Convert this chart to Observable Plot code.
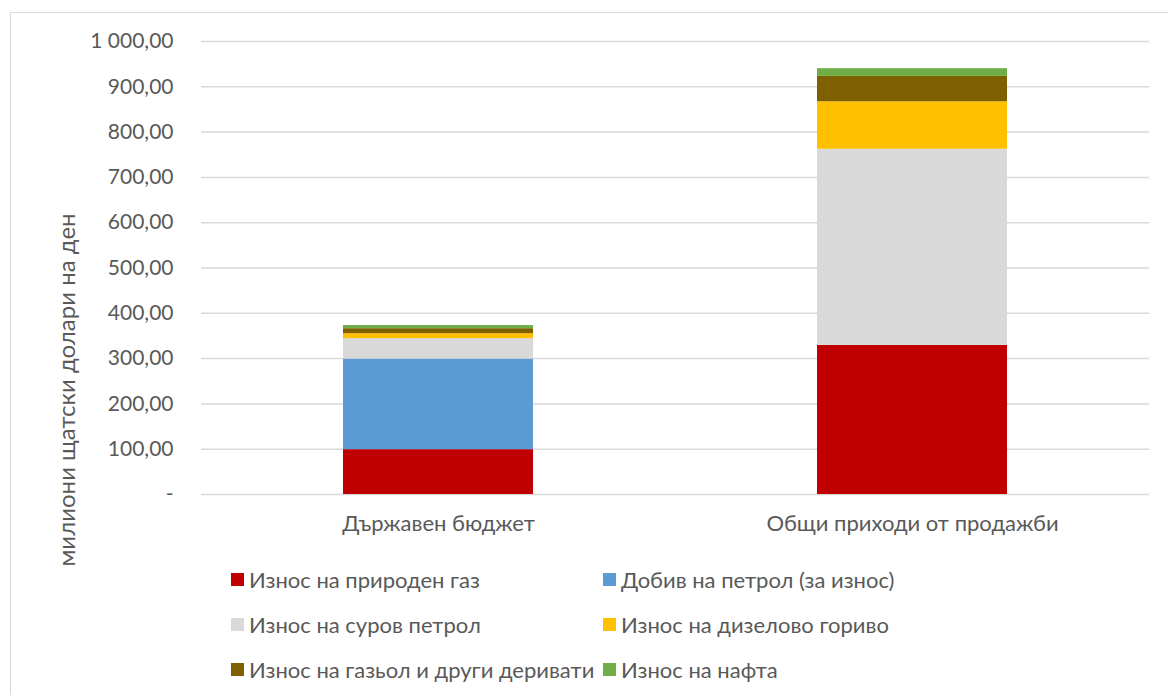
<!DOCTYPE html>
<html>
<head>
<meta charset="utf-8">
<script src="https://cdn.jsdelivr.net/npm/d3@7"></script>
<script src="https://cdn.jsdelivr.net/npm/@observablehq/plot@0.6"></script>
<style>
  html, body { margin: 0; padding: 0; background: #fff; }
  body { width: 1168px; height: 695px; overflow: hidden; position: relative; font-family: Lato, "Open Sans", sans-serif; color: #595959; }
  #frame { position: absolute; left: 10px; top: 12px; width: 1170px; height: 700px; border: 1.5px solid #d9d9d9; box-sizing: border-box; }
  #chart { position: absolute; left: 0; top: 0; }
  #ylabel { position: absolute; left: 65px; top: 390px; transform: translate(-50%, -50%) rotate(-90deg); white-space: nowrap; font-size: 24px; color: #595959; }
  #legend { position: absolute; left: 0; top: 560px; width: 1168px; height: 135px; }
  .item { position: absolute; display: flex; align-items: center; font-size: 22px; color: #595959; white-space: nowrap; }
  .sw { width: 13px; height: 13px; margin-right: 5px; }
</style>
</head>
<body>
<div id="frame"></div>
<div id="chart"></div>
<div id="ylabel">милиони щатски долари на ден</div>
<div id="legend"></div>
<script>
const categories = ["Държавен бюджет", "Общи приходи от продажби"];
const series = [
  "Износ на природен газ",
  "Добив на петрол (за износ)",
  "Износ на суров петрол",
  "Износ на дизелово гориво",
  "Износ на газьол и други деривати",
  "Износ на нафта"
];
const colors = ["#C00000", "#5B9BD5", "#D9D9D9", "#FFC000", "#7F6000", "#70AD47"];
const naturalGas = [99, 329];
const oilProduction = [200, 0];
const crudeOil = [45, 433];
const diesel = [11, 105];
const gasoil = [11, 56];
const naphtha = [7, 17];
const yTicks = [0, 100, 200, 300, 400, 500, 600, 700, 800, 900, 1000];

const seriesValues = [naturalGas, oilProduction, crudeOil, diesel, gasoil, naphtha];
const data = [];
series.forEach((s, i) => categories.forEach((c, j) => data.push({ series: s, category: c, value: seriesValues[i][j] })));

const fmt = v => v === 0 ? "-" : d3.format(",.2f")(v).replace(/,/g, " ").replace(".", ",");

const chart = Plot.plot({
  width: 1168,
  height: 560,
  marginTop: 41,
  marginBottom: 66,
  marginLeft: 201,
  marginRight: 19,
  style: { fontFamily: "Lato, 'Open Sans', sans-serif", fontSize: "21px", color: "#595959", background: "transparent" },
  x: { domain: categories, paddingInner: 0.6, paddingOuter: 0.3, label: null },
  y: { domain: [0, 1000], label: null },
  color: { domain: series, range: colors },
  marks: [
    Plot.gridY(yTicks, { stroke: "#d9d9d9", strokeOpacity: 1, strokeWidth: 1.5 }),
    Plot.axisY(yTicks, { tickSize: 0, tickPadding: 28, tickFormat: fmt, fill: "#595959", fontSize: 21, label: null }),
    Plot.axisX({ tickSize: 0, tickPadding: 21, fill: "#595959", fontSize: 22, label: null }),
    Plot.barY(data, Plot.stackY({ x: "category", y: "value", fill: "series", order: null }))
  ]
});
document.getElementById("chart").appendChild(chart);

const legend = document.getElementById("legend");
const pos = [[231, 19], [603, 19], [231, 64], [603, 64], [231, 109], [603, 109]];
series.forEach((s, i) => {
  const d = document.createElement("div");
  d.className = "item";
  d.style.left = pos[i][0] + "px";
  d.style.top = (pos[i][1] - 13) + "px";
  d.style.height = "26px";
  d.innerHTML = `<span class="sw" style="background:${colors[i]}"></span><span>${s}</span>`;
  legend.appendChild(d);
});
</script>
</body>
</html>
